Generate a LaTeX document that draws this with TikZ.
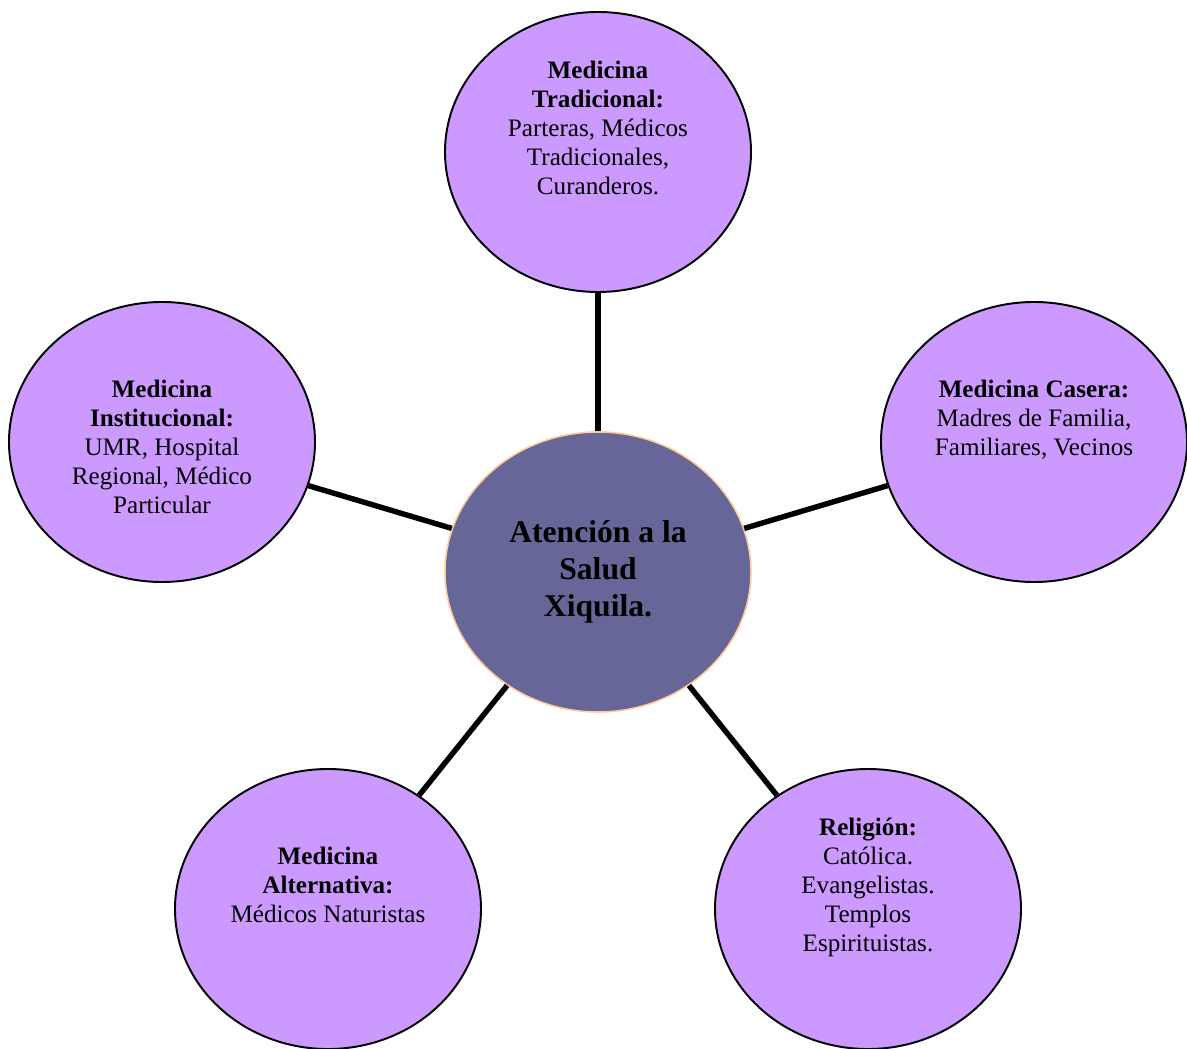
\documentclass[tikz,border=0pt]{standalone}
\usepackage{fontspec}
\setmainfont{Liberation Serif}
\usepackage{xcolor}
\usepackage{tikz}
\usetikzlibrary{shapes.geometric, positioning}
\definecolor{lila}{HTML}{CC99FF}
\definecolor{violeta}{HTML}{666699}
\definecolor{durazno}{HTML}{FFCC99}

\begin{document}
\begin{tikzpicture}[node distance=3cm, on grid,
    rama/.style={ellipse, draw, line width=1.1pt, fill=lila, minimum width=6.12cm, minimum height=5.6cm, inner sep=0pt},
    nucleo/.style={ellipse, draw=durazno, line width=0.9pt, fill=violeta, minimum width=6.12cm, minimum height=5.6cm, inner sep=0pt, align=center, font=\fontsize{18}{21}\selectfont\bfseries},
    texto/.style={anchor=north, align=center, inner sep=0pt, font=\fontsize{14.3}{16.4}\selectfont},
    lien/.style={line width=3.1pt}]

                \useasboundingbox (-11.96,-9.52) rectangle (11.78,11.44);

                % Noeud central
                \node[nucleo] (centro) {Atención a la\\Salud\\Xiquila.};

                % Branches autour du centre
                \node[rama, above=8.4cm of centro] (tradicional) {};
                \node[rama, above left=2.6cm and 8.72cm of centro] (institucional) {};
                \node[rama, above right=2.6cm and 8.72cm of centro] (casera) {};
                \node[rama, below left=6.74cm and 5.4cm of centro] (alternativa) {};
                \node[rama, below right=6.74cm and 5.4cm of centro] (religion) {};

                % Textes des branches
                \node[texto] (tradicional-txt) at ([yshift=-1cm]tradicional.north)
                    {\textbf{Medicina}\\\textbf{Tradicional:}\\Parteras, Médicos\\Tradicionales,\\Curanderos.};
                \node[texto] (institucional-txt) at ([yshift=-1.58cm]institucional.north)
                    {\textbf{Medicina}\\\textbf{Institucional:}\\UMR, Hospital\\Regional, Médico\\Particular};
                \node[texto] (casera-txt) at ([yshift=-1.58cm]casera.north)
                    {\textbf{Medicina Casera:}\\Madres de Familia,\\Familiares, Vecinos};
                \node[texto] (alternativa-txt) at ([yshift=-1.58cm]alternativa.north)
                    {\textbf{Medicina}\\\textbf{Alternativa:}\\Médicos Naturistas};
                \node[texto] (religion-txt) at ([yshift=-1cm]religion.north)
                    {\textbf{Religión:}\\Católica.\\Evangelistas.\\Templos\\Espirituistas.};

                % Liens
                \draw[lien] (centro) -- (tradicional);
                \draw[lien] (centro) -- (institucional);
                \draw[lien] (centro) -- (casera);
                \draw[lien] (centro) -- (alternativa);
                \draw[lien] (centro) -- (religion);

            \end{tikzpicture}
\end{document}
